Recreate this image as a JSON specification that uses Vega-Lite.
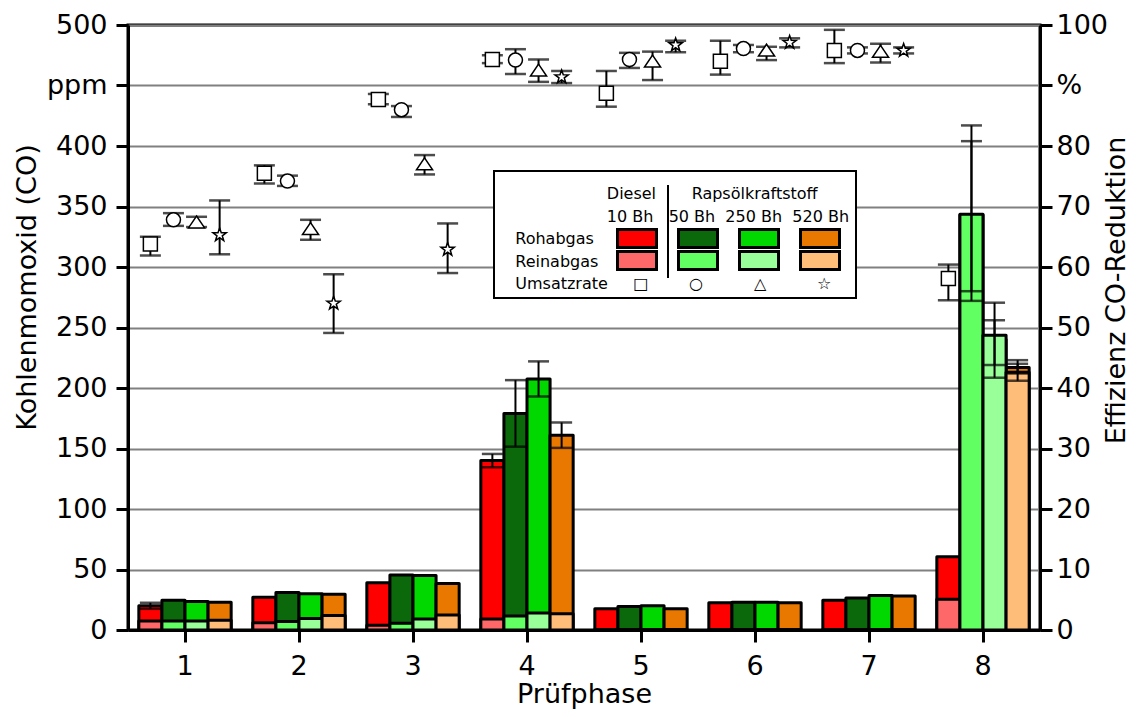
{
  "$schema": "https://vega.github.io/schema/vega-lite/v6.json",
  "width": 912,
  "height": 605,
  "autosize": {"type": "none"},
  "padding": {"left": 128, "top": 25, "right": 97, "bottom": 87},
  "background": "white",
  "data": {"values": [
    {"Phase": 1, "Kraftstoff": "Diesel 10 Bh", "Roh": 20, "RohLow": 17.5, "RohHigh": 22.5, "Rein": 7.5, "Umsatz": 63.8, "UmsatzLow": 61.9, "UmsatzHigh": 65.0, "Messung": "CO", "Einheit": "ppm"},
    {"Phase": 1, "Kraftstoff": "Rapsöl 50 Bh", "Roh": 24.5, "Rein": 7.5, "Umsatz": 67.8, "UmsatzLow": 66.8, "UmsatzHigh": 68.9, "Messung": "CO", "Einheit": "ppm"},
    {"Phase": 1, "Kraftstoff": "Rapsöl 250 Bh", "Roh": 23.5, "Rein": 7.5, "Umsatz": 67.5, "UmsatzLow": 66.6, "UmsatzHigh": 68.3, "Messung": "CO", "Einheit": "ppm"},
    {"Phase": 1, "Kraftstoff": "Rapsöl 520 Bh", "Roh": 23, "Rein": 8, "Umsatz": 65.3, "UmsatzLow": 62.1, "UmsatzHigh": 71.0, "Messung": "CO", "Einheit": "ppm"},
    {"Phase": 2, "Kraftstoff": "Diesel 10 Bh", "Roh": 27, "Rein": 6, "Umsatz": 75.5, "UmsatzLow": 73.8, "UmsatzHigh": 76.8, "Messung": "CO", "Einheit": "ppm"},
    {"Phase": 2, "Kraftstoff": "Rapsöl 50 Bh", "Roh": 31, "Rein": 7, "Umsatz": 74.2, "UmsatzLow": 73.4, "UmsatzHigh": 75.1, "Messung": "CO", "Einheit": "ppm"},
    {"Phase": 2, "Kraftstoff": "Rapsöl 250 Bh", "Roh": 30, "Rein": 9.5, "Umsatz": 66.4, "UmsatzLow": 64.5, "UmsatzHigh": 67.8, "Messung": "CO", "Einheit": "ppm"},
    {"Phase": 2, "Kraftstoff": "Rapsöl 520 Bh", "Roh": 29.5, "Rein": 12, "Umsatz": 54.0, "UmsatzLow": 49.1, "UmsatzHigh": 58.8, "Messung": "CO", "Einheit": "ppm"},
    {"Phase": 3, "Kraftstoff": "Diesel 10 Bh", "Roh": 39, "Rein": 4, "Umsatz": 87.7, "UmsatzLow": 86.9, "UmsatzHigh": 88.6, "Messung": "CO", "Einheit": "ppm"},
    {"Phase": 3, "Kraftstoff": "Rapsöl 50 Bh", "Roh": 45.5, "Rein": 5.5, "Umsatz": 86.0, "UmsatzLow": 84.8, "UmsatzHigh": 86.6, "Messung": "CO", "Einheit": "ppm"},
    {"Phase": 3, "Kraftstoff": "Rapsöl 250 Bh", "Roh": 45, "Rein": 9, "Umsatz": 77.1, "UmsatzLow": 75.3, "UmsatzHigh": 78.5, "Messung": "CO", "Einheit": "ppm"},
    {"Phase": 3, "Kraftstoff": "Rapsöl 520 Bh", "Roh": 38.5, "Rein": 12.5, "Umsatz": 62.9, "UmsatzLow": 59.0, "UmsatzHigh": 67.2, "Messung": "CO", "Einheit": "ppm"},
    {"Phase": 4, "Kraftstoff": "Diesel 10 Bh", "Roh": 140, "RohLow": 134.5, "RohHigh": 145.5, "Rein": 9, "Umsatz": 94.3, "UmsatzLow": 93.7, "UmsatzHigh": 95.0, "Messung": "CO", "Einheit": "ppm"},
    {"Phase": 4, "Kraftstoff": "Rapsöl 50 Bh", "Roh": 179, "RohLow": 151.5, "RohHigh": 206.5, "Rein": 11.5, "Umsatz": 94.2, "UmsatzLow": 91.9, "UmsatzHigh": 96.0, "Messung": "CO", "Einheit": "ppm"},
    {"Phase": 4, "Kraftstoff": "Rapsöl 250 Bh", "Roh": 207.5, "RohLow": 193, "RohHigh": 222, "Rein": 14, "Umsatz": 92.6, "UmsatzLow": 90.6, "UmsatzHigh": 94.3, "Messung": "CO", "Einheit": "ppm"},
    {"Phase": 4, "Kraftstoff": "Rapsöl 520 Bh", "Roh": 161, "RohLow": 150.5, "RohHigh": 171.5, "Rein": 13.5, "Umsatz": 91.4, "UmsatzLow": 90.4, "UmsatzHigh": 92.4, "Messung": "CO", "Einheit": "ppm"},
    {"Phase": 5, "Kraftstoff": "Diesel 10 Bh", "Roh": 17.5, "Rein": 0.5, "Umsatz": 88.7, "UmsatzLow": 86.5, "UmsatzHigh": 92.4, "Messung": "CO", "Einheit": "ppm"},
    {"Phase": 5, "Kraftstoff": "Rapsöl 50 Bh", "Roh": 19.5, "Rein": 0.5, "Umsatz": 94.3, "UmsatzLow": 92.9, "UmsatzHigh": 95.4, "Messung": "CO", "Einheit": "ppm"},
    {"Phase": 5, "Kraftstoff": "Rapsöl 250 Bh", "Roh": 20, "Rein": 0.5, "Umsatz": 94.1, "UmsatzLow": 90.9, "UmsatzHigh": 95.6, "Messung": "CO", "Einheit": "ppm"},
    {"Phase": 5, "Kraftstoff": "Rapsöl 520 Bh", "Roh": 17.5, "Rein": 0.5, "Umsatz": 96.7, "UmsatzLow": 95.5, "UmsatzHigh": 97.4, "Messung": "CO", "Einheit": "ppm"},
    {"Phase": 6, "Kraftstoff": "Diesel 10 Bh", "Roh": 22.5, "Rein": 0.5, "Umsatz": 94.0, "UmsatzLow": 91.8, "UmsatzHigh": 97.4, "Messung": "CO", "Einheit": "ppm"},
    {"Phase": 6, "Kraftstoff": "Rapsöl 50 Bh", "Roh": 23, "Rein": 0.5, "Umsatz": 96.1, "UmsatzLow": 95.5, "UmsatzHigh": 96.7, "Messung": "CO", "Einheit": "ppm"},
    {"Phase": 6, "Kraftstoff": "Rapsöl 250 Bh", "Roh": 23, "Rein": 0.5, "Umsatz": 95.9, "UmsatzLow": 94.2, "UmsatzHigh": 96.4, "Messung": "CO", "Einheit": "ppm"},
    {"Phase": 6, "Kraftstoff": "Rapsöl 520 Bh", "Roh": 22.5, "Rein": 0.5, "Umsatz": 97.1, "UmsatzLow": 96.3, "UmsatzHigh": 97.8, "Messung": "CO", "Einheit": "ppm"},
    {"Phase": 7, "Kraftstoff": "Diesel 10 Bh", "Roh": 24.5, "Rein": 0.5, "Umsatz": 95.8, "UmsatzLow": 93.7, "UmsatzHigh": 99.2, "Messung": "CO", "Einheit": "ppm"},
    {"Phase": 7, "Kraftstoff": "Rapsöl 50 Bh", "Roh": 26.5, "Rein": 0.5, "Umsatz": 95.8, "UmsatzLow": 95.3, "UmsatzHigh": 96.3, "Messung": "CO", "Einheit": "ppm"},
    {"Phase": 7, "Kraftstoff": "Rapsöl 250 Bh", "Roh": 28.5, "Rein": 0.5, "Umsatz": 95.7, "UmsatzLow": 93.8, "UmsatzHigh": 96.9, "Messung": "CO", "Einheit": "ppm"},
    {"Phase": 7, "Kraftstoff": "Rapsöl 520 Bh", "Roh": 28, "Rein": 0.5, "Umsatz": 95.8, "UmsatzLow": 95.3, "UmsatzHigh": 96.3, "Messung": "CO", "Einheit": "ppm"},
    {"Phase": 8, "Kraftstoff": "Diesel 10 Bh", "Roh": 60.5, "Rein": 25.5, "Umsatz": 58.1, "UmsatzLow": 54.5, "UmsatzHigh": 60.4, "Messung": "CO", "Einheit": "ppm"},
    {"Phase": 8, "Kraftstoff": "Rapsöl 50 Bh", "Roh": 343, "RohLow": 272, "RohHigh": 417, "Rein": 343.5, "ReinLow": 280, "ReinHigh": 404, "Messung": "CO", "Einheit": "ppm"},
    {"Phase": 8, "Kraftstoff": "Rapsöl 250 Bh", "Roh": 240, "RohLow": 208.5, "RohHigh": 270.5, "Rein": 243.5, "ReinLow": 219, "ReinHigh": 256, "Messung": "CO", "Einheit": "ppm"},
    {"Phase": 8, "Kraftstoff": "Rapsöl 520 Bh", "Roh": 217, "RohLow": 212, "RohHigh": 223, "Rein": 213, "ReinLow": 206, "ReinHigh": 220, "Messung": "CO", "Einheit": "ppm"}
  ]},
  "encoding": {
    "x": {"field": "Phase", "type": "ordinal", "scale": {"paddingInner": 0.19, "paddingOuter": 0.095},
      "axis": {"title": "Prüfphase", "labelAngle": 0, "labelPadding": 11, "titleFontSize": 27, "titleFont": "DejaVu Sans", "titleY": 72, "titleBaseline": "alphabetic"}},
    "xOffset": {"field": "Kraftstoff", "type": "nominal", "scale": {"domain": ["Diesel 10 Bh", "Rapsöl 50 Bh", "Rapsöl 250 Bh", "Rapsöl 520 Bh"], "paddingInner": 0, "paddingOuter": 0}}
  },
  "layer": [
    {
      "mark": {"type": "bar", "stroke": "black", "strokeWidth": 3, "strokeJoin": "round"},
      "encoding": {
        "y": {"field": "Roh", "type": "quantitative", "scale": {"domain": [0, 500], "nice": false},
          "axis": {"orient": "left", "values": [0, 50, 100, 150, 200, 250, 300, 350, 400, 450, 500], "grid": true, "gridColor": "#808080", "gridWidth": 2,
            "labelExpr": "datum.value == 450 ? 'ppm' : datum.label", "labelPadding": 9,
            "title": "Kohlenmomoxid (CO)", "titleFont": "DejaVu Sans", "titleFontSize": 27, "titleAngle": 270, "titleX": -101, "titleY": 262, "titleBaseline": "middle", "titleAlign": "center"}},
        "fill": {"field": "Kraftstoff", "type": "nominal",
          "scale": {"domain": ["Diesel 10 Bh", "Rapsöl 50 Bh", "Rapsöl 250 Bh", "Rapsöl 520 Bh"], "range": ["#ff0000", "#0b690b", "#00d800", "#e87800"]},
          "legend": {"orient": "none", "legendX": 488, "legendY": 192.5, "zindex": 2, "title": null, "direction": "horizontal", "labelExpr": "''", "labelFontSize": 1, "labelOffset": 0,
            "symbolType": "M-1,-0.46L1,-0.46L1,0.46L-1,0.46Z", "symbolSize": 1521, "symbolStrokeColor": "black", "symbolStrokeWidth": 3, "symbolOpacity": 1, "columnPadding": 9, "padding": 0}},
        "opacity": {"field": "Messung", "type": "ordinal", "scale": {"range": [1, 1]},
          "legend": {"orient": "none", "legendX": 492.5, "legendY": 159, "zindex": 2, "title": null, "labelExpr": "''", "labelFontSize": 1,
            "symbolType": "M0,-1L0,1", "symbolSize": 8649, "symbolStrokeColor": "black", "symbolStrokeWidth": 2, "symbolFillColor": "transparent", "padding": 0}}
      }
    },
    {
      "mark": {"type": "bar", "stroke": "black", "strokeWidth": 3, "strokeJoin": "round"},
      "encoding": {
        "y": {"field": "Rein", "type": "quantitative", "scale": {"domain": [0, 500], "nice": false}, "axis": null},
        "fill": {"field": "Kraftstoff", "type": "nominal",
          "scale": {"domain": ["Diesel 10 Bh", "Rapsöl 50 Bh", "Rapsöl 250 Bh", "Rapsöl 520 Bh"], "range": ["#ff6868", "#62ff62", "#99ff99", "#ffbd7a"]},
          "legend": {"orient": "none", "legendX": 488, "legendY": 214.5, "zindex": 2, "title": null, "direction": "horizontal", "labelExpr": "''", "labelFontSize": 1, "labelOffset": 0,
            "symbolType": "M-1,-0.46L1,-0.46L1,0.46L-1,0.46Z", "symbolSize": 1521, "symbolStrokeColor": "black", "symbolStrokeWidth": 3, "symbolOpacity": 1, "columnPadding": 9, "padding": 0}},
        "opacity": {"field": "Einheit", "type": "ordinal", "scale": {"range": [1, 1]},
          "legend": {"orient": "none", "legendX": 366, "legendY": 146, "zindex": 1,
            "title": [
              "\u200b\u00a0\u00a0\u00a0\u00a0\u00a0\u00a0\u00a0\u00a0\u00a0\u00a0\u00a0\u00a0\u00a0\u00a0\u00a0\u00a0\u00a0\u00a0\u00a0\u00a0\u00a0Diesel\u00a0\u00a0\u00a0\u00a0\u00a0\u00a0\u00a0Rapsölkraftstoff",
              "\u200b\u00a0\u00a0\u00a0\u00a0\u00a0\u00a0\u00a0\u00a0\u00a0\u00a0\u00a0\u00a0\u00a0\u00a0\u00a0\u00a0\u00a0\u00a0\u00a0\u00a0\u00a010 Bh\u00a0\u00a0\u00a050 Bh\u00a0\u00a0250 Bh\u00a0\u00a0520 Bh",
              "\u200b\u00a0\u00a0\u00a0Rohabgas",
              "\u200b\u00a0\u00a0\u00a0Reinabgas",
              "\u200b\u00a0\u00a0\u00a0Umsatzrate\u00a0\u00a0\u00a0\u00a0\u00a0\u25a1\u00a0\u00a0\u00a0\u00a0\u00a0\u00a0\u00a0\u00a0\u25cb\u00a0\u00a0\u00a0\u00a0\u00a0\u00a0\u00a0\u00a0\u00a0\u00a0\u25b3\u00a0\u00a0\u00a0\u00a0\u00a0\u00a0\u00a0\u00a0\u00a0\u00a0\u2606"
            ],
            "titleOrient": "bottom", "titleAnchor": "start", "titleAlign": "left", "titleFontSize": 16, "titleFontWeight": "normal", "titleLineHeight": 22.5, "titleLimit": 1000, "titlePadding": 5, "titleColor": "black",
            "padding": 6, "strokeColor": "black", "fillColor": "white",
            "symbolSize": 0, "symbolOpacity": 0, "labelExpr": "''", "labelFontSize": 1}}
      }
    },
    {
      "transform": [{"filter": "isValid(datum.RohLow)"}],
      "mark": {"type": "rule", "strokeWidth": 2, "color": "black"},
      "encoding": {
        "y": {"field": "RohLow", "type": "quantitative", "scale": {"domain": [0, 500], "nice": false}, "axis": null},
        "y2": {"field": "RohHigh"}
      }
    },
    {
      "transform": [{"filter": "isValid(datum.RohLow)"}],
      "mark": {"type": "tick", "color": "black", "thickness": 2.5, "size": 21},
      "encoding": {"y": {"field": "RohLow", "type": "quantitative", "scale": {"domain": [0, 500], "nice": false}, "axis": null}}
    },
    {
      "transform": [{"filter": "isValid(datum.RohHigh)"}],
      "mark": {"type": "tick", "color": "black", "thickness": 2.5, "size": 21},
      "encoding": {"y": {"field": "RohHigh", "type": "quantitative", "scale": {"domain": [0, 500], "nice": false}, "axis": null}}
    },
    {
      "transform": [{"filter": "isValid(datum.ReinLow)"}],
      "mark": {"type": "rule", "strokeWidth": 2, "color": "black"},
      "encoding": {
        "y": {"field": "ReinLow", "type": "quantitative", "scale": {"domain": [0, 500], "nice": false}, "axis": null},
        "y2": {"field": "ReinHigh"}
      }
    },
    {
      "transform": [{"filter": "isValid(datum.ReinLow)"}],
      "mark": {"type": "tick", "color": "black", "thickness": 2.5, "size": 21},
      "encoding": {"y": {"field": "ReinLow", "type": "quantitative", "scale": {"domain": [0, 500], "nice": false}, "axis": null}}
    },
    {
      "transform": [{"filter": "isValid(datum.ReinHigh)"}],
      "mark": {"type": "tick", "color": "black", "thickness": 2.5, "size": 21},
      "encoding": {"y": {"field": "ReinHigh", "type": "quantitative", "scale": {"domain": [0, 500], "nice": false}, "axis": null}}
    },
    {
      "transform": [{"filter": "isValid(datum.Umsatz)"}],
      "mark": {"type": "rule", "strokeWidth": 2, "color": "black"},
      "encoding": {
        "y": {"field": "UmsatzLow", "type": "quantitative", "scale": {"domain": [0, 100], "nice": false},
          "axis": {"orient": "right", "values": [0, 10, 20, 30, 40, 50, 60, 70, 80, 90, 100], "labelExpr": "datum.value == 90 ? '%' : datum.label", "labelPadding": 4,
            "title": "Effizienz CO-Reduktion", "titleFont": "DejaVu Sans", "titleFontSize": 27, "titleAngle": 270, "titleX": 76, "titleY": 265, "titleBaseline": "middle", "titleAlign": "center"}},
        "y2": {"field": "UmsatzHigh"}
      }
    },
    {
      "transform": [{"filter": "isValid(datum.Umsatz)"}],
      "mark": {"type": "tick", "color": "black", "thickness": 2.5, "size": 21},
      "encoding": {"y": {"field": "UmsatzLow", "type": "quantitative", "scale": {"domain": [0, 100], "nice": false}, "axis": null}}
    },
    {
      "transform": [{"filter": "isValid(datum.Umsatz)"}],
      "mark": {"type": "tick", "color": "black", "thickness": 2.5, "size": 21},
      "encoding": {"y": {"field": "UmsatzHigh", "type": "quantitative", "scale": {"domain": [0, 100], "nice": false}, "axis": null}}
    },
    {
      "transform": [{"filter": "isValid(datum.Umsatz)"}],
      "mark": {"type": "point", "filled": false, "fill": "white", "stroke": "black", "color": "black", "strokeWidth": 1.5, "size": 196, "opacity": 1, "fillOpacity": 1},
      "encoding": {
        "y": {"field": "Umsatz", "type": "quantitative", "scale": {"domain": [0, 100], "nice": false}, "axis": null},
        "shape": {"field": "Kraftstoff", "type": "nominal",
          "scale": {"domain": ["Diesel 10 Bh", "Rapsöl 50 Bh", "Rapsöl 250 Bh", "Rapsöl 520 Bh"], "range": ["square", "circle", "M0,-0.8L1.15,0.9L-1.15,0.9Z", "M0,-1L0.235,-0.324L0.951,-0.309L0.38,0.124L0.588,0.809L0,0.4L-0.588,0.809L-0.38,0.124L-0.951,-0.309L-0.235,-0.324Z"]},
          "legend": null}
      }
    }
  ],
  "resolve": {"scale": {"y": "independent", "fill": "independent", "opacity": "independent"}, "legend": {"fill": "independent", "opacity": "independent"}},
  "config": {
    "font": "DejaVu Sans",
    "view": {"stroke": "black", "strokeWidth": 3},
    "axis": {"domainColor": "black", "domainWidth": 3, "tickColor": "black", "tickWidth": 3, "tickSize": 12, "labelFont": "DejaVu Sans", "labelFontSize": 27, "labelColor": "black", "titleColor": "black", "titleFontWeight": "normal", "grid": false, "labelOverlap": false},
    "legend": {"labelFont": "DejaVu Sans", "titleFont": "DejaVu Sans", "strokeWidth": 2}
  }
}
